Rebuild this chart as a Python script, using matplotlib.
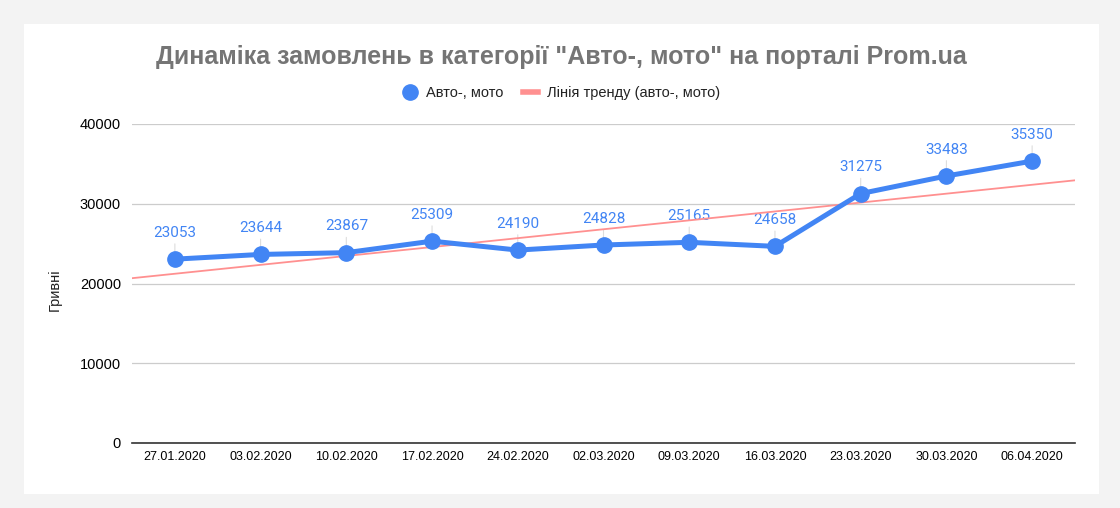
import numpy as np
import matplotlib.pyplot as plt
from matplotlib.patches import Rectangle
from matplotlib.lines import Line2D

plt.rcParams['font.family'] = ['Liberation Sans', 'DejaVu Sans']

dates = ['27.01.2020', '03.02.2020', '10.02.2020', '17.02.2020', '24.02.2020',
         '02.03.2020', '09.03.2020', '16.03.2020', '23.03.2020', '30.03.2020',
         '06.04.2020']
orders = [23053, 23644, 23867, 25309, 24190, 24828, 25165, 24658, 31275, 33483, 35350]

blue = '#4285f4'
trend_col = '#ff9090'

fig = plt.figure(figsize=(11.2, 5.08), dpi=100)
fig.patch.set_facecolor('#f3f3f3')
fig.patches.append(Rectangle((24 / 1120, 1 - 494 / 508), 1075 / 1120, 470 / 508,
                             transform=fig.transFigure, facecolor='white',
                             edgecolor='none', zorder=-10))

ax = fig.add_axes([132 / 1120, 1 - 443 / 508, 943 / 1120, 319 / 508])
ax.set_facecolor('none')

x = np.arange(len(dates))
# linear trend over the points
k, b = np.polyfit(x, orders, 1)
xt = np.array([-0.5, len(dates) - 0.5])
ax.plot(xt, k * xt + b, color=trend_col, lw=1.3, zorder=2)

ax.plot(x, orders, color=blue, lw=3.6, marker='o', ms=11, zorder=3,
        solid_capstyle='round', solid_joinstyle='round')
for xi, v in zip(x, orders):
    ax.annotate(str(v), (xi, v), xytext=(0, 14), textcoords='offset points',
                ha='center', va='bottom', color=blue, fontsize=11,
                family=['Roboto', 'DejaVu Sans'],
                arrowprops=dict(arrowstyle='-', color='#dddddd', lw=0.8,
                                shrinkA=1, shrinkB=0), zorder=1)

ax.set_xlim(-0.5, len(dates) - 0.5)
ax.set_ylim(0, 40000)
ax.set_yticks([0, 10000, 20000, 30000, 40000])
ax.set_xticks(x)
ax.set_xticklabels(dates, fontsize=9)
ax.tick_params(axis='y', labelsize=10.5, length=0, pad=8)
ax.tick_params(axis='x', length=0, pad=6)
ax.grid(axis='y', color='#cccccc', lw=0.9)
ax.set_axisbelow(True)
for s in ['top', 'right', 'left']:
    ax.spines[s].set_visible(False)
ax.spines['bottom'].set_color('#333333')
ax.spines['bottom'].set_linewidth(1.2)
ax.spines['bottom'].set_zorder(4)

fig.text(55 / 1120, 1 - 290 / 508, 'Гривні', rotation=90, ha='center',
         va='center', fontsize=10.5, color='#222222')

fig.text(561 / 1120, 1 - 57 / 508,
         'Динаміка замовлень в категорії "Авто-, мото" на порталі Prom.ua',
         ha='center', va='center', fontsize=18, fontweight='bold', color='#757575')

handles = [Line2D([], [], color=blue, marker='o', ms=11, lw=0),
           Line2D([], [], color=trend_col, lw=4)]
fig.legend(handles, ['Авто-, мото', 'Лінія тренду (авто-, мото)'],
           loc='center', bbox_to_anchor=(561 / 1120, 1 - 93 / 508), ncol=2,
           frameon=False, fontsize=10.5, handlelength=1.0, handletextpad=0.6,
           columnspacing=1.4, labelcolor='#222222')

fig.savefig('out.png', dpi=100, facecolor=fig.get_facecolor())
